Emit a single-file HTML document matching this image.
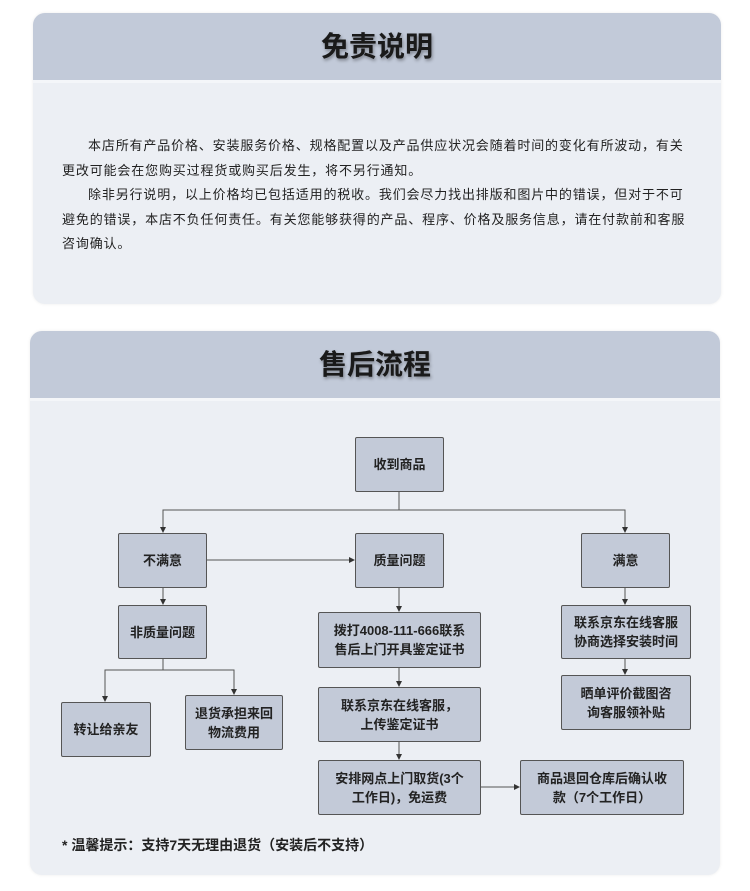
<!DOCTYPE html>
<html><head><meta charset="utf-8"><style>
*{margin:0;padding:0;box-sizing:border-box}
body{width:750px;height:891px;background:#fff;position:relative;font-family:"Liberation Sans","Noto Sans CJK SC",sans-serif;color:#222;overflow:hidden}
.card{position:absolute;background:#eceff4;border-radius:12px;overflow:hidden;box-shadow:0 0 3px rgba(0,0,0,0.08)}
.hd{position:absolute;left:0;right:0;top:0;background:#c2cad9;border-bottom:3px solid #f4f6f9;text-align:center;font-weight:bold;font-size:28px;color:#1a1a1a;text-shadow:1px 2px 3px rgba(0,0,0,0.35)}
.p{position:absolute;left:29px;width:660px;font-size:13px;line-height:24.5px;color:#222;letter-spacing:0.85px;white-space:nowrap}
.b{position:absolute;background:#c3cad8;border:1px solid #555;border-radius:2px;display:flex;align-items:center;justify-content:center;text-align:center;font-size:13px;font-weight:bold;line-height:19px;color:#222}
</style></head><body>
<div class="card" style="left:33px;top:13px;width:688px;height:291px">
 <div class="hd" style="height:70px;line-height:68px">免责说明</div>
 <div class="p" style="top:121px"><span style="padding-left:26px">本店所有产品价格、安装服务价格、规格配置以及产品供应状况会随着时间的变化有所波动，有关</span><br>更改可能会在您购买过程货或购买后发生，将不另行通知。<br><span style="padding-left:26px">除非另行说明，以上价格均已包括适用的税收。我们会尽力找出排版和图片中的错误，但对于不可</span><br>避免的错误，本店不负任何责任。有关您能够获得的产品、程序、价格及服务信息，请在付款前和客服<br>咨询确认。</div>
</div>
<div class="card" style="left:30px;top:331px;width:690px;height:544px">
 <div class="hd" style="height:70px;line-height:68px">售后流程</div>
</div>
<svg style="position:absolute;left:0;top:0" width="750" height="891">
<defs><marker id="a" markerWidth="6" markerHeight="6" refX="5" refY="3" orient="auto"><path d="M0,0L6,3L0,6z" fill="#333"/></marker></defs>
<g stroke="#555" stroke-width="1" fill="none" marker-end="url(#a)">
<path d="M399,491V510H163V532"/>
<path d="M399,510H625V532"/>
<path d="M207,560H354"/>
<path d="M163,587V604"/>
<path d="M399,587V611"/>
<path d="M399,667V686"/>
<path d="M399,741V759"/>
<path d="M480,787H519"/>
<path d="M625,587V604"/>
<path d="M625,658V674"/>
<path d="M163,658V670H105V701"/>
<path d="M163,670H234V694"/>
</g></svg>
<div class="b" style="left:355px;top:437px;width:89px;height:55px">收到商品</div>
<div class="b" style="left:118px;top:533px;width:89px;height:55px">不满意</div>
<div class="b" style="left:355px;top:533px;width:89px;height:55px">质量问题</div>
<div class="b" style="left:581px;top:533px;width:89px;height:55px">满意</div>
<div class="b" style="left:118px;top:605px;width:89px;height:54px">非质量问题</div>
<div class="b" style="left:318px;top:612px;width:163px;height:56px">拨打4008-111-666联系<br>售后上门开具鉴定证书</div>
<div class="b" style="left:318px;top:687px;width:163px;height:55px">联系京东在线客服，<br>上传鉴定证书</div>
<div class="b" style="left:318px;top:760px;width:163px;height:55px">安排网点上门取货(3个<br>工作日)，免运费</div>
<div class="b" style="left:520px;top:760px;width:164px;height:55px">商品退回仓库后确认收<br>款（7个工作日）</div>
<div class="b" style="left:561px;top:605px;width:130px;height:54px">联系京东在线客服<br>协商选择安装时间</div>
<div class="b" style="left:561px;top:675px;width:130px;height:55px">晒单评价截图咨<br>询客服领补贴</div>
<div class="b" style="left:61px;top:702px;width:90px;height:55px">转让给亲友</div>
<div class="b" style="left:185px;top:695px;width:98px;height:55px">退货承担来回<br>物流费用</div>
<div style="position:absolute;left:62px;top:835px;font-size:14px;font-weight:bold;color:#222">* 温馨提示：支持7天无理由退货（安装后不支持）</div>
</body></html>
